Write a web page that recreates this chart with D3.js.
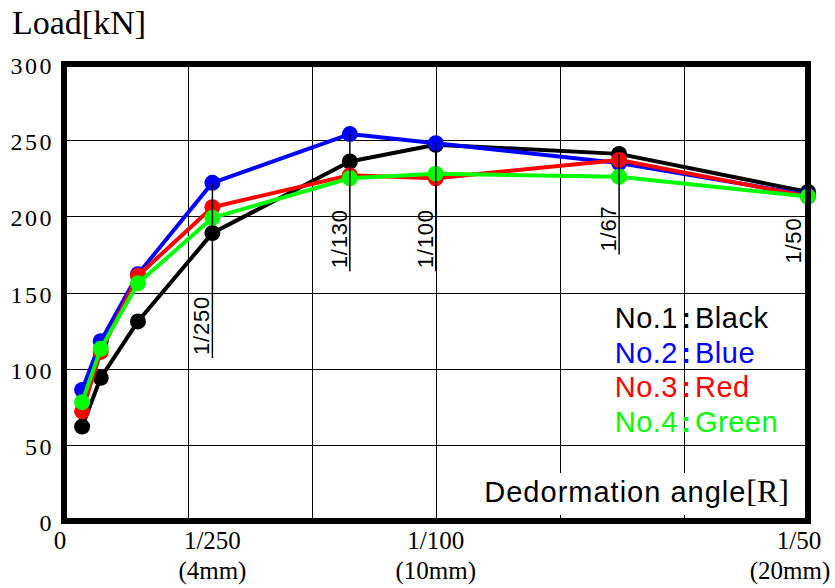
<!DOCTYPE html>
<html>
<head>
<meta charset="utf-8">
<script src="https://cdn.jsdelivr.net/npm/d3@7"></script>
<style>
  html, body { margin: 0; padding: 0; background: #fff; }
  svg { display: block; }
</style>
</head>
<body>
<svg id="chart" width="835" height="588"></svg>
<script>
// Deformation angle (rad) at each loading step
const angles = [1/2000, 1/1000, 1/500, 1/250, 1/130, 1/100, 1/67, 1/50];

// Load [kN] per specimen
const loadNo1 = [62, 94, 131, 189, 236, 247, 241, 216];
const loadNo2 = [86, 118, 162, 222, 254, 248, 235, 214];
const loadNo3 = [72, 111, 161, 206, 227, 225, 237, 213];
const loadNo4 = [78, 113, 156, 199, 225, 228, 226, 213];

const seriesNames = ["No.1", "No.2", "No.3", "No.4"];
const colorNames = ["Black", "Blue", "Red", "Green"];
const seriesColors = ["#000000", "#0000ff", "#ff0000", "#00ff00"];

// Y axis ticks
const yTicks = [0, 50, 100, 150, 200, 250, 300];

// X axis tick labels (angle + corresponding displacement)
const xTickValues = [0, 1/250, 1/100, 1/50];
const xTickLabels = ["0", "1/250", "1/100", "1/50"];
const xTickSubLabels = ["", "(4mm)", "(10mm)", "(20mm)"];

// Reference angle markers drawn inside the plot
const markerAngles = [1/250, 1/130, 1/100, 1/67, 1/50];
const markerLabels = ["1/250", "1/130", "1/100", "1/67", "1/50"];
const markerBottomLoads = [107, 164, 164, 175, 167];

(function () {
  const svg = d3.select("#chart");
  const serif = "'Liberation Serif', 'Times New Roman', serif";
  const sans = "'Liberation Sans', Arial, sans-serif";

  const pL = 64, pR = 808, pT = 64, pB = 521;
  const x = d3.scaleLinear().domain([0, 0.02]).range([63.5, 808]);
  const y = d3.scaleLinear().domain([0, 300]).range([pB, pT]);

  // grid
  const grid = svg.append("g").attr("stroke", "#000").attr("stroke-width", 1);
  grid.selectAll("line.h").data(yTicks).join("line")
    .attr("x1", pL).attr("x2", pR)
    .attr("y1", d => Math.round(y(d)) + 0.5).attr("y2", d => Math.round(y(d)) + 0.5);
  const vGrid = d3.range(1, 6).map(i => i * 0.02 / 6);
  grid.selectAll("line.v").data(vGrid).join("line")
    .attr("y1", pT).attr("y2", pB)
    .attr("x1", d => Math.round(x(d)) + 0.5).attr("x2", d => Math.round(x(d)) + 0.5);

  // axis title box (white background)
  svg.append("rect").attr("x", 470).attr("y", 473).attr("width", 332).attr("height", 42).attr("fill", "#fff");
  const xt = svg.append("text").attr("x", 789).attr("y", 502).attr("text-anchor", "end")
    .attr("font-family", sans).attr("font-size", 29).attr("fill", "#000");
  xt.append("tspan").attr("letter-spacing", 1).text("Dedormation angle");
  xt.append("tspan").attr("font-family", serif).attr("font-size", 32).text("[R]");

  // series
  const allLoads = [loadNo1, loadNo2, loadNo3, loadNo4];
  const line = d3.line().x(d => x(d[0])).y(d => y(d[1]));
  allLoads.forEach((loads, i) => {
    const pts = angles.map((a, j) => [a, loads[j]]);
    const g = svg.append("g");
    g.append("path").attr("d", line(pts)).attr("fill", "none")
      .attr("stroke", seriesColors[i]).attr("stroke-width", 4).attr("stroke-linejoin", "round");
    g.selectAll("circle").data(pts).join("circle")
      .attr("cx", d => x(d[0])).attr("cy", d => y(d[1])).attr("r", 8)
      .attr("fill", seriesColors[i]);
  });

  // reference angle markers
  markerAngles.forEach((a, i) => {
    const idx = angles.indexOf(a);
    const maxLoad = d3.max(allLoads, s => s[idx]);
    const mx = x(a);
    const last = i === markerAngles.length - 1;
    if (!last) {
      svg.append("line").attr("x1", mx).attr("x2", mx)
        .attr("y1", y(maxLoad)).attr("y2", y(markerBottomLoads[i]))
        .attr("stroke", "#000").attr("stroke-width", 1.5);
    }
    const ty = y(markerBottomLoads[i]) - 3;
    const tx = mx - 3 - (last ? 4 : 0);
    svg.append("text").attr("transform", `translate(${tx},${ty}) rotate(-90)`)
      .attr("font-family", sans).attr("font-size", 22).attr("fill", "#000")
      .attr("letter-spacing", 0.8)
      .text(markerLabels[i]);
  });

  // frame
  svg.append("rect").attr("x", pL).attr("y", pT).attr("width", pR - pL).attr("height", pB - pT)
    .attr("fill", "none").attr("stroke", "#000").attr("stroke-width", 6);

  // y tick labels
  svg.selectAll("text.yt").data(yTicks).join("text")
    .attr("x", 54).attr("y", d => y(d) + 10)
    .attr("text-anchor", "end").attr("font-family", serif).attr("font-size", 24)
    .attr("letter-spacing", 2.5).attr("fill", "#000")
    .text(d => d);

  // x tick labels
  const xl = svg.append("g").attr("font-family", serif).attr("font-size", 25).attr("fill", "#000").attr("text-anchor", "middle");
  xTickValues.forEach((v, i) => {
    let cx = x(v);
    if (i === 0) cx = 60;
    if (i === xTickValues.length - 1) cx = 799;
    xl.append("text").attr("x", cx).attr("y", 549).text(xTickLabels[i]);
    if (xTickSubLabels[i]) {
      const sx = i === xTickValues.length - 1 ? 790 : x(v);
      xl.append("text").attr("x", sx).attr("y", 579).text(xTickSubLabels[i]);
    }
  });

  // y axis title
  svg.append("text").attr("x", 12).attr("y", 34).attr("font-family", serif).attr("font-size", 34)
    .attr("fill", "#000").text("Load[kN]");

  // legend
  const lg = svg.append("g").attr("font-family", sans).attr("font-size", 29);
  seriesNames.forEach((n, i) => {
    const ly = 328 + i * 34.5;
    lg.append("text").attr("x", 678).attr("y", ly).attr("text-anchor", "end")
      .attr("letter-spacing", 0.5).attr("fill", seriesColors[i]).text(n);
    lg.append("text").attr("x", 686).attr("y", ly).attr("text-anchor", "middle")
      .attr("font-weight", "bold").attr("fill", seriesColors[i]).text(":");
    lg.append("text").attr("x", 695).attr("y", ly)
      .attr("letter-spacing", 0.5).attr("fill", seriesColors[i]).text(colorNames[i]);
  });
})();
</script>
</body>
</html>
